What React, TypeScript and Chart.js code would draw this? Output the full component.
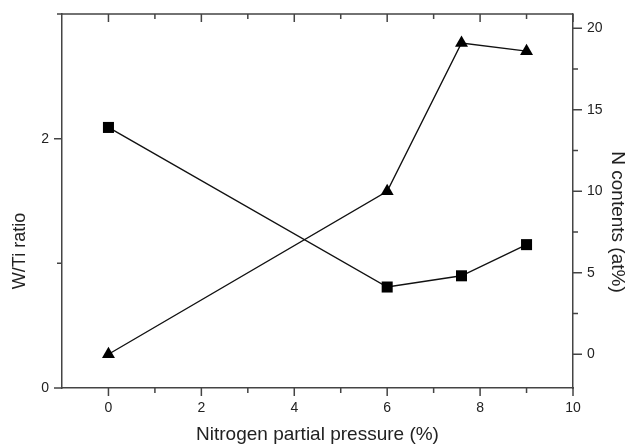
import React, { useEffect, useRef } from 'react';
import { Chart, registerables } from 'chart.js';

Chart.register(...registerables);

// ---- data ----
const pressure = [0, 6, 7.6, 9];
const wtiRatio = [2.09, 0.81, 0.9, 1.15];
const nContents = [0, 10, 19.1, 18.6];

const xTickValues = [0, 1, 2, 3, 4, 5, 6, 7, 8, 9, 10];
const xLabelValues = [0, 2, 4, 6, 8, 10];
const leftTickValues = [0, 1, 2, 3];
const leftLabelValues = [0, 2];
const rightTickValues = [0, 2.5, 5, 7.5, 10, 12.5, 15, 17.5, 20];
const rightLabelValues = [0, 5, 10, 15, 20];

const xTitle = 'Nitrogen partial pressure (%)';
const leftTitle = 'W/Ti ratio';
const rightTitle = 'N contents (at%)';

const FONT = '"Liberation Sans", Arial, sans-serif';
const AXIS_COLOR = '#444';
const TEXT_COLOR = '#222';

const framePlugin = {
  id: 'framePlugin',
  afterDraw(chart: any) {
    const { ctx, chartArea: a, scales } = chart;
    ctx.save();
    ctx.strokeStyle = AXIS_COLOR;
    ctx.lineWidth = 1.5;
    ctx.beginPath();
    ctx.moveTo(a.left, a.top);
    ctx.lineTo(a.right, a.top);
    for (const v of xTickValues) {
      const px = scales.x.getPixelForValue(v);
      const len = xLabelValues.includes(v) ? 8 : 5;
      ctx.moveTo(px, a.bottom);
      ctx.lineTo(px, a.bottom + len);
      ctx.moveTo(px, a.top);
      ctx.lineTo(px, a.top + len);
    }
    for (const v of leftTickValues) {
      const py = scales.y.getPixelForValue(v);
      const len = leftLabelValues.includes(v) ? 8 : 5;
      ctx.moveTo(a.left - len, py);
      ctx.lineTo(a.left, py);
    }
    for (const v of rightTickValues) {
      const py = scales.y1.getPixelForValue(v);
      const len = rightLabelValues.includes(v) ? 9 : 5;
      ctx.moveTo(a.right, py);
      ctx.lineTo(a.right + len, py);
    }
    ctx.stroke();

    ctx.fillStyle = TEXT_COLOR;
    ctx.textAlign = 'center';
    ctx.textBaseline = 'middle';
    ctx.save();
    ctx.font = `18px ${FONT}`;
    ctx.translate(20, 251);
    ctx.rotate(-Math.PI / 2);
    ctx.fillText(leftTitle, 0, 0);
    ctx.restore();
    ctx.save();
    ctx.font = `19px ${FONT}`;
    ctx.translate(617, 222);
    ctx.rotate(Math.PI / 2);
    ctx.fillText(rightTitle, 0, 0);
    ctx.restore();
    ctx.restore();
  },
};

const zeroPad = (s: any) => {
  s.paddingTop = 0;
  s.paddingBottom = 0;
  s.paddingLeft = 0;
  s.paddingRight = 0;
};

export default function App() {
  const ref = useRef<HTMLCanvasElement | null>(null);

  useEffect(() => {
    document.body.style.margin = '0';
    const canvas = ref.current;
    if (!canvas) return;
    const tickFont = { family: FONT, size: 14 };
    const chart = new Chart(canvas, {
      type: 'line',
      data: {
        datasets: [
          {
            label: leftTitle,
            data: pressure.map((x, i) => ({ x, y: wtiRatio[i] })),
            yAxisID: 'y',
            borderColor: '#111',
            backgroundColor: '#000',
            borderWidth: 1.4,
            pointStyle: 'rect',
            pointRadius: 7.8,
            pointBorderWidth: 0,
            pointBackgroundColor: '#000',
            tension: 0,
          },
          {
            label: rightTitle,
            data: pressure.map((x, i) => ({ x, y: nContents[i] })),
            yAxisID: 'y1',
            borderColor: '#111',
            backgroundColor: '#000',
            borderWidth: 1.4,
            pointStyle: 'triangle',
            pointRadius: 7.5,
            pointBorderWidth: 0,
            pointBackgroundColor: '#000',
            tension: 0,
          },
        ],
      },
      options: {
        animation: false,
        responsive: false,
        devicePixelRatio: 1,
        layout: { padding: { top: 14, left: 0, right: 0, bottom: 0 } },
        plugins: { legend: { display: false }, tooltip: { enabled: false } },
        scales: {
          x: {
            type: 'linear',
            position: 'bottom',
            min: -1,
            max: 10,
            afterBuildTicks: (s: any) => {
              s.ticks = xLabelValues.map((v) => ({ value: v }));
            },
            afterFit: (s: any) => {
              s.height = 58;
              zeroPad(s);
            },
            grid: { display: false, drawTicks: false },
            border: { display: true, color: AXIS_COLOR, width: 1.5 },
            ticks: { font: tickFont, color: TEXT_COLOR, padding: 12, maxRotation: 0, autoSkip: false },
            title: {
              display: true,
              text: xTitle,
              color: TEXT_COLOR,
              font: { family: FONT, size: 19 },
              padding: { top: 0, bottom: 0 },
            },
          },
          y: {
            type: 'linear',
            position: 'left',
            min: 0,
            max: 3,
            afterBuildTicks: (s: any) => {
              s.ticks = leftLabelValues.map((v) => ({ value: v }));
            },
            afterFit: (s: any) => {
              s.width = 62;
              zeroPad(s);
            },
            grid: { display: false, drawTicks: false },
            border: { display: true, color: AXIS_COLOR, width: 1.5 },
            ticks: { font: tickFont, color: TEXT_COLOR, padding: 13 },
          },
          y1: {
            type: 'linear',
            position: 'right',
            min: -2.07,
            max: 20.88,
            afterBuildTicks: (s: any) => {
              s.ticks = rightLabelValues.map((v) => ({ value: v }));
            },
            afterFit: (s: any) => {
              s.width = 56;
              zeroPad(s);
            },
            grid: { display: false, drawTicks: false },
            border: { display: true, color: AXIS_COLOR, width: 1.5 },
            ticks: { font: tickFont, color: TEXT_COLOR, padding: 14 },
          },
        },
      },
      plugins: [framePlugin],
    });
    return () => chart.destroy();
  }, []);

  return <canvas ref={ref} width={629} height={446} style={{ display: 'block' }} />;
}
